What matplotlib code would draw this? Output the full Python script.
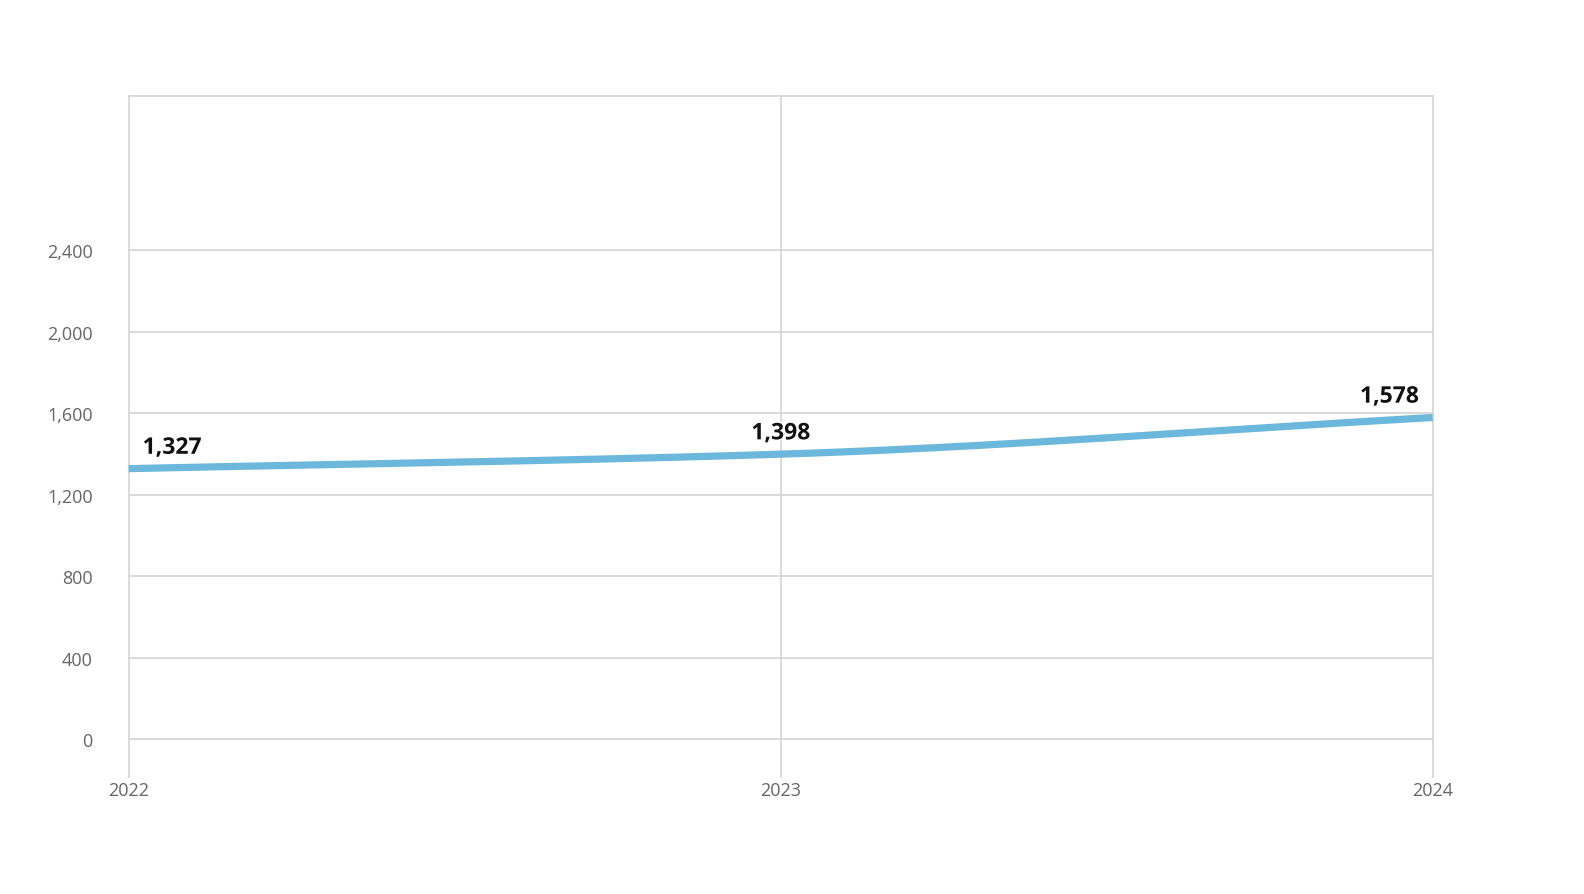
import numpy as np
import matplotlib
matplotlib.use("Agg")
import matplotlib.pyplot as plt
from matplotlib import patheffects

years = [2022, 2023, 2024]
values = [1327, 1398, 1578]
y_ticks = [0, 400, 800, 1200, 1600, 2000, 2400]
y_top = 3156

line_color = "#6cb8dc"
grid_color = "#d8d8d8"


def monotone_curve(x, y, n=200):
    """Fritsch-Carlson monotone cubic, only used to draw a smooth line."""
    x = np.asarray(x, float)
    y = np.asarray(y, float)
    h = np.diff(x)
    d = np.diff(y) / h
    m = np.zeros_like(y)
    m[0], m[-1] = d[0], d[-1]
    for i in range(1, len(y) - 1):
        if d[i - 1] * d[i] <= 0:
            m[i] = 0
        else:
            m[i] = 2 / (1 / d[i - 1] + 1 / d[i])
    xs, ys = [], []
    for i in range(len(h)):
        t = np.linspace(0, 1, n)
        h00 = 2 * t**3 - 3 * t**2 + 1
        h10 = t**3 - 2 * t**2 + t
        h01 = -2 * t**3 + 3 * t**2
        h11 = t**3 - t**2
        xs.append(x[i] + t * h[i])
        ys.append(h00 * y[i] + h10 * h[i] * m[i] + h01 * y[i + 1] + h11 * h[i] * m[i + 1])
    return np.concatenate(xs), np.concatenate(ys)


plt.rcParams["font.family"] = ["Open Sans", "DejaVu Sans"]

fig = plt.figure(figsize=(15.84, 8.95), dpi=100)
ax = fig.add_axes([128.7 / 1584, 1 - 778 / 895, (1432.7 - 128.7) / 1584, (778 - 97) / 895])

pad_y = 38 / (740 - 97) * y_top
ax.set_xlim(years[0], years[-1])
ax.set_ylim(-pad_y, y_top)

for yt in y_ticks:
    ax.axhline(yt, color=grid_color, linewidth=1.3, zorder=1)
ax.axhline(y_top, color=grid_color, linewidth=1.3, zorder=1, clip_on=False)
for yr in years:
    ax.axvline(yr, color=grid_color, linewidth=1.3, zorder=1, clip_on=False)

for s in ax.spines.values():
    s.set_visible(False)

ax.set_yticks(y_ticks)
ax.set_yticklabels([f"{v:,}" for v in y_ticks])
ax.set_xticks(years)
ax.set_xticklabels([str(y) for y in years])
ax.tick_params(axis="both", length=0, labelsize=13, colors="#666666")
ax.tick_params(axis="y", pad=26)
ax.tick_params(axis="x", pad=3)

cx, cy = monotone_curve(years, values)
ax.plot(cx, cy, color=line_color, linewidth=5.2, solid_capstyle="butt", zorder=3, clip_on=False)

aligns = ["left", "center", "right"]
offsets = [10, 0, -10]
for yr, v, ha, dx in zip(years, values, aligns, offsets):
    ax.annotate(f"{v:,}", (yr, v), xytext=(dx, 15), textcoords="offset points",
                ha=ha, va="center", fontsize=16.5, fontweight="bold", color="#111111",
                zorder=4,
                path_effects=[patheffects.withStroke(linewidth=2.5, foreground="white")])

fig.savefig("out.png", dpi=100, facecolor="white")
